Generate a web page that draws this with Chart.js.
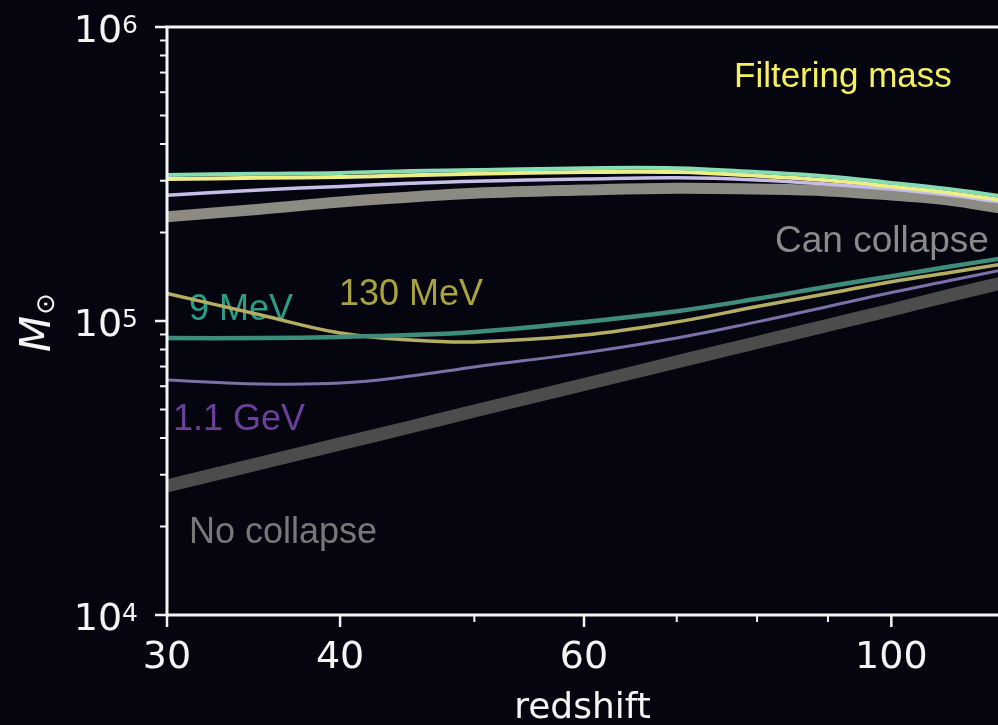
<!DOCTYPE html>
<html>
<head>
<meta charset="utf-8">
<script src="https://cdn.jsdelivr.net/npm/chart.js@4.4.0/dist/chart.umd.min.js"></script>
<style>
  html, body { margin: 0; padding: 0; background: #05050f; overflow: hidden; }
  canvas { display: block; }
</style>
</head>
<body>
<canvas id="c" width="998" height="725"></canvas>
<script>
// Redshift samples
const redshift = [30, 35, 40, 45, 50, 60, 70, 80, 90, 100, 110, 120];

// Filtering mass (solar masses), upper band
const filter9MeV   = [3.14e5, 3.17e5, 3.19e5, 3.24e5, 3.26e5, 3.31e5, 3.31e5, 3.21e5, 3.10e5, 2.95e5, 2.81e5, 2.66e5];
const filter130MeV = [3.04e5, 3.07e5, 3.09e5, 3.13e5, 3.17e5, 3.21e5, 3.21e5, 3.12e5, 3.01e5, 2.87e5, 2.73e5, 2.58e5];
const filter1GeV   = [2.68e5, 2.79e5, 2.87e5, 2.94e5, 2.99e5, 3.04e5, 3.07e5, 3.02e5, 2.92e5, 2.81e5, 2.68e5, 2.54e5];
const filterCDM    = [2.26e5, 2.40e5, 2.54e5, 2.64e5, 2.72e5, 2.79e5, 2.83e5, 2.81e5, 2.77e5, 2.68e5, 2.58e5, 2.42e5];

// Minimum mass able to collapse (solar masses), lower band
const collapse9MeV   = [8.75e4, 8.75e4, 8.83e4, 8.96e4, 9.18e4, 9.93e4, 1.08e5, 1.19e5, 1.31e5, 1.42e5, 1.53e5, 1.63e5];
const collapse130MeV = [1.24e5, 1.05e5, 9.10e4, 8.62e4, 8.49e4, 8.96e4, 9.93e4, 1.12e5, 1.24e5, 1.36e5, 1.46e5, 1.56e5];
const collapse1GeV   = [6.30e4, 6.11e4, 6.15e4, 6.50e4, 6.98e4, 7.79e4, 8.75e4, 9.93e4, 1.12e5, 1.25e5, 1.37e5, 1.49e5];
const collapseCDM    = [2.75e4, 3.28e4, 3.82e4, 4.37e4, 4.94e4, 6.08e4, 7.26e4, 8.45e4, 9.67e4, 1.09e5, 1.22e5, 1.345e5];

// Axis ticks
const xMajorTicks = [30, 40, 60, 100];
const xTickLabels = ['30', '40', '60', '100'];
const xMinorTicks = [50, 70, 80, 90];
const yExponents  = [4, 5, 6];

const BG = '#05050f';
const AXIS = '#f4f4f4';
const TICK_FONT = '"DejaVu Sans", sans-serif';
const NOTE_FONT = '"Liberation Sans", Arial, sans-serif';

const pts = arr => redshift.map((z, i) => ({ x: z, y: arr[i] }));
const series = (data, color, width) => ({
  data: pts(data), borderColor: color, borderWidth: width,
  pointRadius: 0, fill: false, tension: 0.4, borderCapStyle: 'butt', borderJoinStyle: 'round'
});

// Text annotations placed behind the curves
const notes = [
  { text: 'Filtering mass', x: 734, y: 87,  size: 35, color: '#f6f05c' },
  { text: 'Can collapse',   x: 775, y: 252, size: 37, color: '#8a8a8a' },
  { text: 'No collapse',    x: 189, y: 543, size: 36, color: '#787878' },
  { text: '9 MeV',          x: 189, y: 320, size: 36, color: '#2a9d88' },
  { text: '130 MeV',        x: 339, y: 305, size: 36, color: '#a9a23e' },
  { text: '1.1 GeV',        x: 173, y: 430, size: 36, color: '#6b3f9b' }
];

const framePlugin = {
  id: 'frame',
  beforeDraw(chart) {
    const { ctx, width, height } = chart;
    ctx.save();
    ctx.fillStyle = BG;
    ctx.fillRect(0, 0, width, height);
    ctx.restore();
  },
  beforeDatasetsDraw(chart) {
    const { ctx } = chart;
    ctx.save();
    ctx.textBaseline = 'alphabetic';
    ctx.textAlign = 'left';
    notes.forEach(n => {
      ctx.font = `${n.size}px ${NOTE_FONT}`;
      ctx.fillStyle = n.color;
      ctx.fillText(n.text, n.x, n.y);
    });
    ctx.restore();
  },
  afterDatasetsDraw(chart) {
    const { ctx, chartArea: ca, scales: { x, y } } = chart;
    ctx.save();
    ctx.strokeStyle = AXIS;
    ctx.fillStyle = AXIS;
    ctx.lineJoin = 'miter';
    ctx.lineCap = 'butt';

    // spines: top, left, bottom
    ctx.lineWidth = 3;
    ctx.beginPath();
    ctx.moveTo(ca.right + 4, ca.top);
    ctx.lineTo(ca.left, ca.top);
    ctx.lineTo(ca.left, ca.bottom);
    ctx.lineTo(ca.right + 4, ca.bottom);
    ctx.stroke();

    // y ticks
    yExponents.forEach(e => {
      const py = y.getPixelForValue(Math.pow(10, e));
      ctx.lineWidth = 2.5;
      ctx.beginPath(); ctx.moveTo(ca.left, py); ctx.lineTo(ca.left - 12, py); ctx.stroke();
      if (e < yExponents[yExponents.length - 1]) {
        for (let m = 2; m <= 9; m++) {
          const pm = y.getPixelForValue(m * Math.pow(10, e));
          ctx.lineWidth = 2;
          ctx.beginPath(); ctx.moveTo(ca.left, pm); ctx.lineTo(ca.left - 7, pm); ctx.stroke();
        }
      }
      // label 10^e
      ctx.font = `38px ${TICK_FONT}`;
      const wBase = ctx.measureText('10').width;
      ctx.font = `25px ${TICK_FONT}`;
      const wSup = ctx.measureText(String(e)).width;
      const rightEdge = 138;
      ctx.textAlign = 'left';
      ctx.textBaseline = 'alphabetic';
      ctx.font = `38px ${TICK_FONT}`;
      ctx.fillText('10', rightEdge - wSup - wBase, py + 15);
      ctx.font = `25px ${TICK_FONT}`;
      ctx.fillText(String(e), rightEdge - wSup, py + 6);
    });

    // x ticks
    ctx.lineWidth = 2.5;
    xMajorTicks.forEach((v, i) => {
      const px = x.getPixelForValue(v);
      ctx.beginPath(); ctx.moveTo(px, ca.bottom); ctx.lineTo(px, ca.bottom + 12); ctx.stroke();
      ctx.font = `38px ${TICK_FONT}`;
      ctx.textAlign = 'center';
      ctx.textBaseline = 'alphabetic';
      ctx.fillText(xTickLabels[i], px, ca.bottom + 53);
    });
    ctx.lineWidth = 2;
    xMinorTicks.forEach(v => {
      const px = x.getPixelForValue(v);
      ctx.beginPath(); ctx.moveTo(px, ca.bottom); ctx.lineTo(px, ca.bottom + 7); ctx.stroke();
    });

    // axis titles
    ctx.font = `36px ${TICK_FONT}`;
    ctx.textAlign = 'center';
    ctx.fillText('redshift', (ca.left + ca.right) / 2, ca.bottom + 103);

    ctx.translate(50, 352);
    ctx.rotate(-Math.PI / 2);
    ctx.textAlign = 'left';
    ctx.font = `italic 42px ${TICK_FONT}`;
    const wM = ctx.measureText('M').width;
    ctx.fillText('M', 0, 0);
    ctx.font = `26px ${TICK_FONT}`;
    ctx.fillText('\u2299', wM + 1, 4);
    ctx.restore();
  }
};

new Chart(document.getElementById('c'), {
  type: 'line',
  data: {
    datasets: [
      series(filter9MeV,   '#88dcb2', 4),
      series(filter130MeV, '#eeee88', 4),
      series(filter1GeV,   '#c6bee8', 3.5),
      series(filterCDM,    '#8b8b84', 11),
      series(collapse9MeV,   '#3d8c7c', 4.5),
      series(collapse130MeV, '#b4ae64', 3.5),
      series(collapse1GeV,   '#7c70a8', 3),
      series(collapseCDM,    '#4c4c4c', 13)
    ]
  },
  options: {
    responsive: false,
    animation: false,
    devicePixelRatio: 1,
    layout: { padding: { left: 167, top: 27, right: 0, bottom: 110 } },
    plugins: { legend: { display: false }, tooltip: { enabled: false } },
    scales: {
      x: { type: 'logarithmic', min: 30, max: 119.4, display: false },
      y: { type: 'logarithmic', min: 1e4, max: 1e6, display: false }
    }
  },
  plugins: [framePlugin]
});
</script>
</body>
</html>
